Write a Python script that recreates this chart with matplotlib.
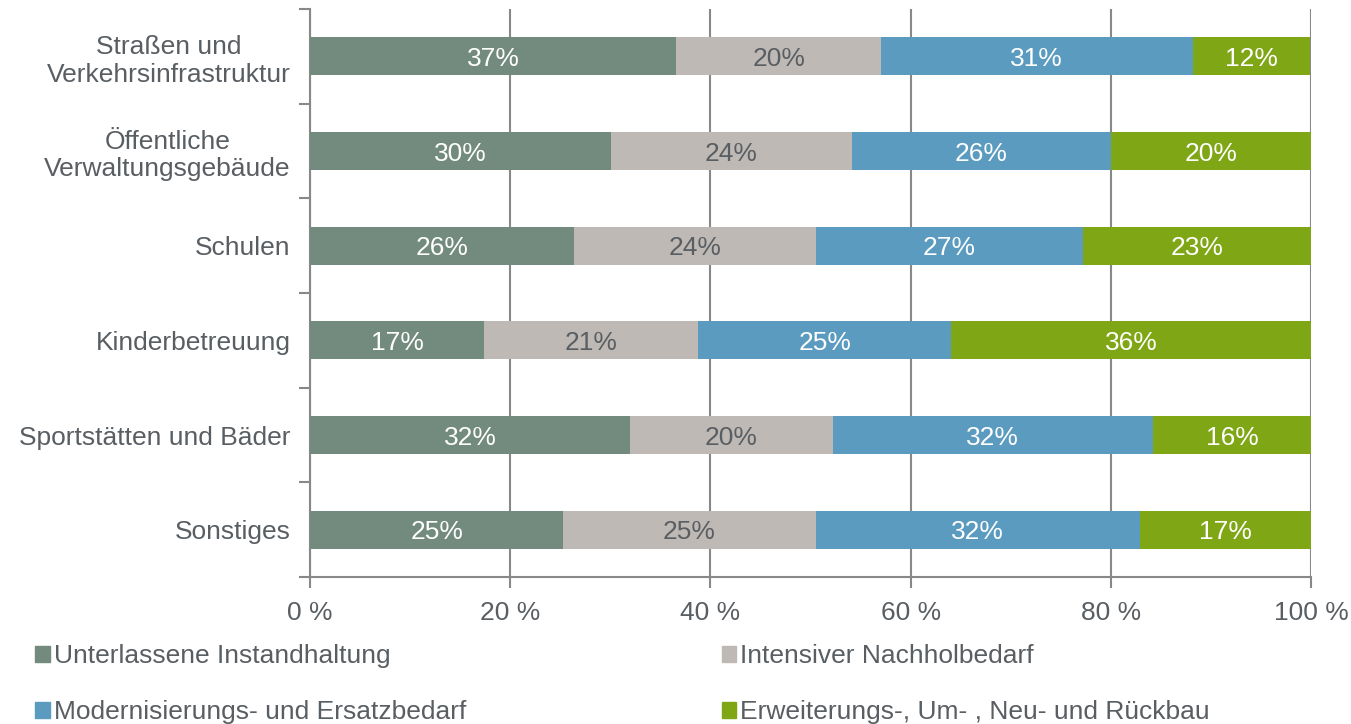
import numpy as np
from matplotlib import pyplot as plt
from matplotlib.patches import Patch

plt.rcParams['font.family'] = ['Liberation Sans', 'DejaVu Sans']

categories = ["Straßen und\nVerkehrsinfrastruktur", "Öffentliche\nVerwaltungsgebäude", "Schulen",
              "Kinderbetreuung", "Sportstätten und Bäder", "Sonstiges"]
series_names = ["Unterlassene Instandhaltung", "Intensiver Nachholbedarf",
                "Modernisierungs- und Ersatzbedarf", "Erweiterungs-, Um- , Neu- und Rückbau"]
unterlassen = [36.6, 30.1, 26.4, 17.4, 32.0, 25.3]
intensiv = [20.4, 24.0, 24.1, 21.4, 20.2, 25.2]
modern = [31.2, 25.9, 26.7, 25.2, 32.0, 32.4]
erweiterung = [11.7, 20.0, 22.8, 36.0, 15.8, 17.1]
labels = [["37%", "30%", "26%", "17%", "32%", "25%"],
          ["20%", "24%", "24%", "21%", "20%", "25%"],
          ["31%", "26%", "27%", "25%", "32%", "32%"],
          ["12%", "20%", "23%", "36%", "16%", "17%"]]
colors = ["#728b7e", "#bfb9b5", "#5b9bc0", "#7fa614"]
text_colors = ["white", "#595e63", "white", "white"]

txt = "#595e63"
fs = 19
fig = plt.figure(figsize=(13.51, 7.24), dpi=100)
ax = fig.add_axes([0.2295, 0.203, 0.741, 0.7845])

y = np.arange(len(categories))
left = np.zeros(len(categories))
for vals, col, tcol, labs in zip([unterlassen, intensiv, modern, erweiterung], colors, text_colors, labels):
    ax.barh(y, vals, left=left, height=0.4, color=col, zorder=3)
    for yi, l, v, lab in zip(y, left, vals, labs):
        ax.text(l + v / 2, yi, lab, ha='center', va='center_baseline', color=tcol, fontsize=fs, zorder=4)
    left += np.array(vals)

ax.set_ylim(len(categories) - 0.5, -0.5)
ax.set_xlim(0, 100)
ax.set_yticks(y)
ax.set_yticklabels(categories, fontsize=fs, color=txt, multialignment='center')
ax.set_yticks(np.arange(-0.5, len(categories), 1), minor=True)
ax.tick_params(axis='y', which='major', length=0, pad=14)
ax.tick_params(axis='y', which='minor', length=8, color="#888888", width=1.5)
ax.set_xticks(range(0, 101, 20))
ax.set_xticklabels([f"{v} %" for v in range(0, 101, 20)], fontsize=fs, color=txt)
ax.tick_params(axis='x', length=8, color="#888888", width=1.5, pad=9)
ax.grid(axis='x', color="#888888", linewidth=1.5, zorder=0)
for s in ['top', 'right']:
    ax.spines[s].set_visible(False)
for s in ['left', 'bottom']:
    ax.spines[s].set_color("#888888")
    ax.spines[s].set_linewidth(1.5)

handles = [Patch(color=c) for c in colors]
order = [0, 2, 1, 3]
fig.legend([handles[i] for i in order], [series_names[i] for i in order], ncol=2,
           loc='upper left', bbox_to_anchor=(0.026, 0.11), frameon=False, fontsize=fs,
           labelcolor=txt, handlelength=0.55, handleheight=0.55, handletextpad=0.15,
           columnspacing=9.7, labelspacing=1.2, borderpad=0, borderaxespad=0)

fig.savefig("out.png", dpi=100)
